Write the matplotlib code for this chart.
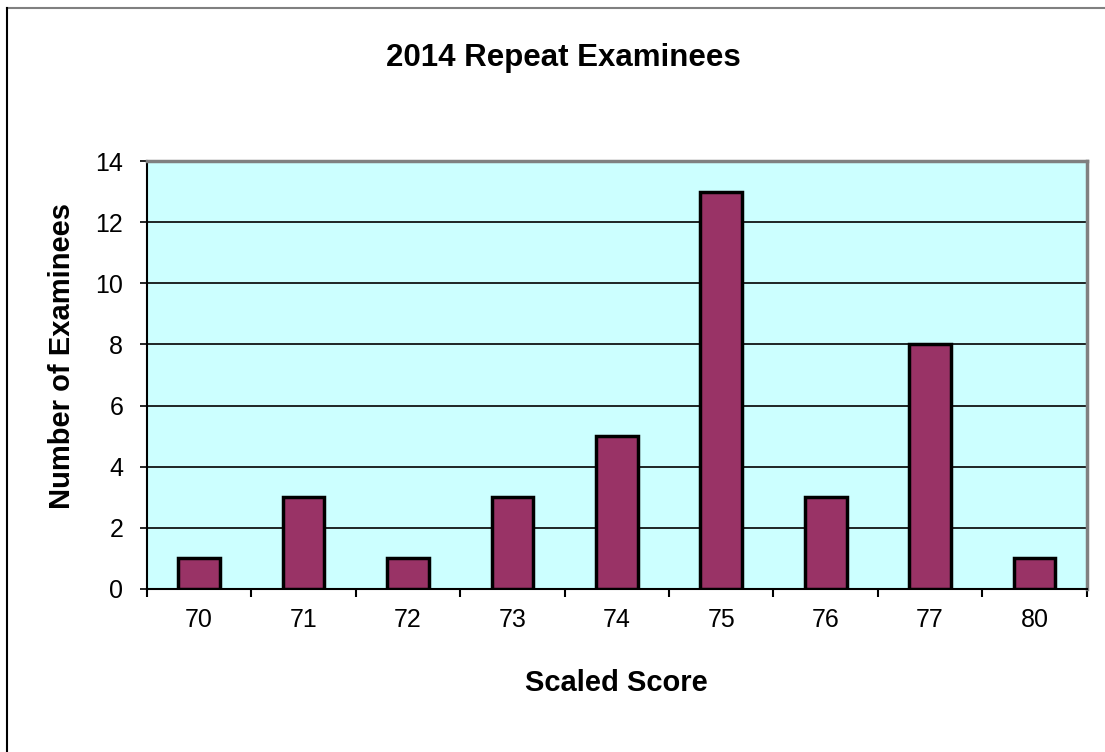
import matplotlib.pyplot as plt
from matplotlib.lines import Line2D

scores = ['70', '71', '72', '73', '74', '75', '76', '77', '80']
counts = [1, 3, 1, 3, 5, 13, 3, 8, 1]

plt.rcParams['font.family'] = ['Liberation Sans', 'DejaVu Sans']

fig = plt.figure(figsize=(11.05, 7.52), dpi=100)
ax = fig.add_axes([0.133, 0.2168, 0.8504, 0.5691])

# outer chart border (top gray, left black like the reference)
fig.add_artist(Line2D([0.0063, 1], [0.9894, 0.9894], color='#808080', lw=1.5, transform=fig.transFigure))
fig.add_artist(Line2D([0.0063, 0.0063], [0, 0.9894], color='black', lw=1.5, transform=fig.transFigure))

x = list(range(len(scores)))
ax.set_facecolor('#CCFFFF')
ax.bar(x, counts, width=0.4, color='#993366', edgecolor='black', linewidth=2.5, zorder=3)

ax.set_xlim(-0.5, len(scores) - 0.5)
ax.set_ylim(0, 14)
ax.set_yticks(range(0, 15, 2))
ax.yaxis.grid(True, color='black', linewidth=1.2, zorder=1)
ax.set_axisbelow(True)

# ticks sit between categories, labels centred under the bars
ax.set_xticks([i + 0.5 for i in range(-1, len(scores))])
ax.set_xticklabels([])
ax.set_xticks(x, minor=True)
ax.set_xticklabels(scores, minor=True)
ax.tick_params(axis='x', which='major', direction='out', length=6, width=1.5, color='black')
ax.tick_params(axis='x', which='minor', length=0, pad=14, labelsize=18)
ax.tick_params(axis='y', direction='out', length=5, width=1.2, labelsize=18, pad=12)

for s in ['top', 'right']:
    ax.spines[s].set_color('#808080')
    ax.spines[s].set_linewidth(2.5)
ax.spines['left'].set_color('black')
ax.spines['left'].set_linewidth(1.5)
ax.spines['bottom'].set_color('black')
ax.spines['bottom'].set_linewidth(1.5)

ax.set_xlabel('Scaled Score', fontsize=21, fontweight='bold', va='center')
ax.xaxis.set_label_coords(0.5, -0.2196)
ax.set_ylabel('Number of Examinees', fontsize=21, fontweight='bold', va='center')
ax.yaxis.set_label_coords(-0.0904, 0.545)
fig.text(0.5095, 0.9229, '2014 Repeat Examinees', fontsize=22.5, fontweight='bold', ha='center', va='center')

fig.savefig('out.png', dpi=100)
